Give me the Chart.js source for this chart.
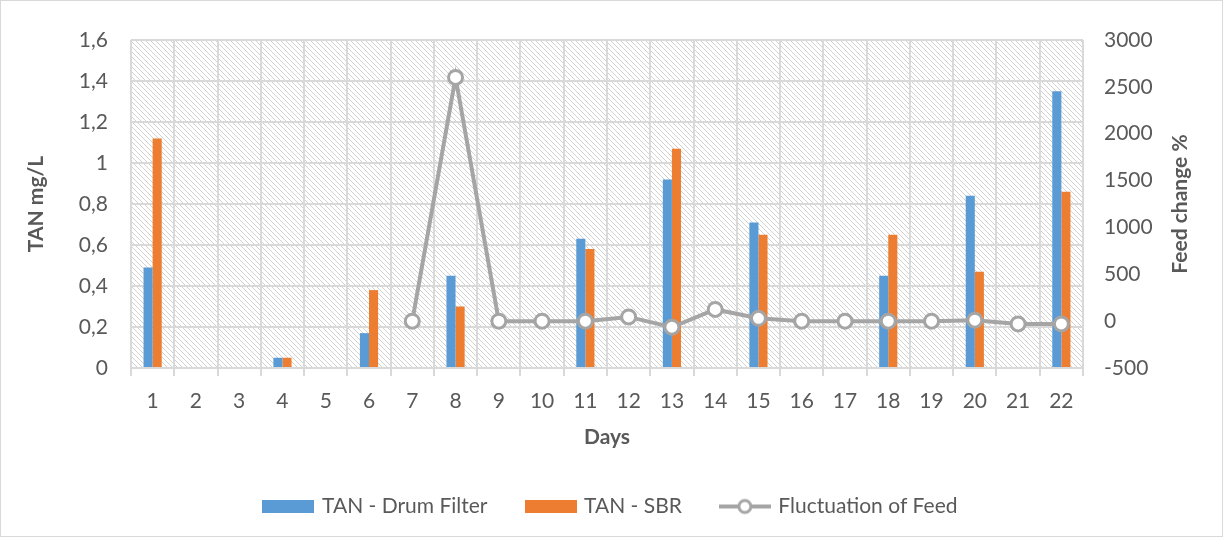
<!DOCTYPE html>
<html>
<head>
<meta charset="utf-8">
<script src="https://cdn.jsdelivr.net/npm/chart.js@4/dist/chart.umd.min.js"></script>
<style>
  html, body { margin:0; padding:0; background:#fff; }
  #wrap { position:relative; width:1223px; height:537px; box-sizing:border-box; border:1px solid #d9d9d9; }
</style>
</head>
<body>
<div id="wrap"><canvas id="c" width="1221" height="535"></canvas></div>
<script>
const days = ["1","2","3","4","5","6","7","8","9","10","11","12","13","14","15","16","17","18","19","20","21","22"];
const tanDrum = [0.49,null,null,0.05,null,0.17,null,0.45,null,null,0.63,null,0.92,null,0.71,null,null,0.45,null,0.84,null,1.35];
const tanSbr  = [1.12,null,null,0.05,null,0.38,null,0.30,null,null,0.58,null,1.07,null,0.65,null,null,0.65,null,0.47,null,0.86];
const feedChange = [null,null,null,null,null,null,0,2600,0,0,0,45,-65,125,30,0,0,0,0,10,-30,-30];

const GRID = "#d9d9d9";
const TXT = "#595959";
const FONT = "Lato";

/* hatch fill behind the plot */
function hatch(){
  const s = 5, cv = document.createElement("canvas");
  cv.width = s; cv.height = s;
  const g = cv.getContext("2d");
  g.fillStyle = "#fff"; g.fillRect(0,0,s,s);
  g.strokeStyle = "#d2d2d2"; g.lineWidth = 1;
  g.beginPath();
  g.moveTo(-1,-1); g.lineTo(s+1,s+1);
  g.moveTo(-1,s-1); g.lineTo(1,s+1);
  g.moveTo(s-1,-1); g.lineTo(s+1,1);
  g.stroke();
  return cv;
}
const hatchPlugin = {
  id:"hatch",
  beforeDraw(chart){
    const {ctx, chartArea:a} = chart;
    ctx.save();
    ctx.fillStyle = ctx.createPattern(hatch(),"repeat");
    ctx.fillRect(a.left,a.top,a.right-a.left,a.bottom-a.top);
    ctx.restore();
  }
};

/* right axis title, read bottom to top like the left one */
const rightTitle = {
  id:"rightTitle",
  afterDraw(chart){
    const {ctx, chartArea:a} = chart;
    ctx.save();
    ctx.translate(1179,(a.top+a.bottom)/2);
    ctx.rotate(-Math.PI/2);
    ctx.font = "bold 21px " + FONT;
    ctx.fillStyle = TXT;
    ctx.textAlign = "center";
    ctx.textBaseline = "middle";
    ctx.fillText("Feed change %",0,0);
    ctx.restore();
  }
};

/* legend markers */
function boxIcon(color){
  const cv = document.createElement("canvas");
  cv.width = 52; cv.height = 13;
  const g = cv.getContext("2d");
  g.fillStyle = color; g.fillRect(0,0,52,13);
  return cv;
}
function lineIcon(){
  const cv = document.createElement("canvas");
  cv.width = 52; cv.height = 18;
  const g = cv.getContext("2d");
  g.strokeStyle = "#a5a5a5"; g.lineWidth = 4;
  g.beginPath(); g.moveTo(0,9); g.lineTo(52,9); g.stroke();
  g.fillStyle = "#fff"; g.lineWidth = 3;
  g.beginPath(); g.arc(26,9,6,0,Math.PI*2); g.fill(); g.stroke();
  return cv;
}

new Chart(document.getElementById("c"),{
  data:{
    labels:days,
    datasets:[
      {type:"bar",label:"TAN - Drum Filter",data:tanDrum,backgroundColor:"#5b9bd5",yAxisID:"y",order:2,
       barPercentage:1,categoryPercentage:0.42},
      {type:"bar",label:"TAN - SBR",data:tanSbr,backgroundColor:"#ed7d31",yAxisID:"y",order:2,
       barPercentage:1,categoryPercentage:0.42},
      {type:"line",label:"Fluctuation of Feed",data:feedChange,yAxisID:"y1",order:1,
       borderColor:"#a5a5a5",borderWidth:4,pointRadius:7,pointHoverRadius:7,pointBorderWidth:3,
       pointBackgroundColor:"#fff",pointBorderColor:"#a5a5a5",tension:0,spanGaps:false}
    ]
  },
  options:{
    responsive:false,
    animation:false,
    layout:{padding:{top:39,left:0,right:0,bottom:9}},
    plugins:{
      tooltip:{enabled:false},
      legend:{
        position:"bottom",
        labels:{
          usePointStyle:true,
          pointStyleWidth:46,
          padding:40,
          color:TXT,
          font:{family:FONT,size:21},
          generateLabels(chart){
            const icons = [boxIcon("#5b9bd5"),boxIcon("#ed7d31"),lineIcon()];
            return chart.data.datasets.map((ds,i)=>({
              text:ds.label, pointStyle:icons[i], fillStyle:"#fff", strokeStyle:"#fff",
              lineWidth:0, fontColor:TXT, datasetIndex:i, hidden:false
            }));
          }
        }
      }
    },
    scales:{
      x:{
        offset:true,
        grid:{color:GRID,lineWidth:2,offset:true,drawTicks:true,tickLength:8,tickColor:GRID},
        border:{color:GRID,width:2},
        ticks:{color:TXT,font:{family:FONT,size:21},padding:13,maxRotation:0,autoSkip:false},
        title:{display:true,text:"Days",color:TXT,font:{family:FONT,size:21,weight:"bold"},padding:{top:0,bottom:6}},
        afterFit(s){ s.height = 88; }
      },
      y:{
        position:"left",
        min:0,max:1.6,
        grid:{color:GRID,lineWidth:2,drawTicks:false},
        border:{display:false},
        ticks:{stepSize:0.2,color:TXT,font:{family:FONT,size:21},padding:23,
               callback:v=>String(Math.round(v*10)/10).replace(".",",")},
        title:{display:true,text:"TAN mg/L",color:TXT,font:{family:FONT,size:21,weight:"bold"},padding:{top:23}},
        afterFit(s){ s.width = 130; }
      },
      y1:{
        position:"right",
        min:-500,max:3000,
        grid:{drawOnChartArea:false,drawTicks:false},
        border:{display:false},
        ticks:{stepSize:500,color:TXT,font:{family:FONT,size:21},padding:21,callback:v=>String(v)},
        afterFit(s){ s.width = 139; }
      }
    }
  },
  plugins:[hatchPlugin,rightTitle]
});
</script>
</body>
</html>
